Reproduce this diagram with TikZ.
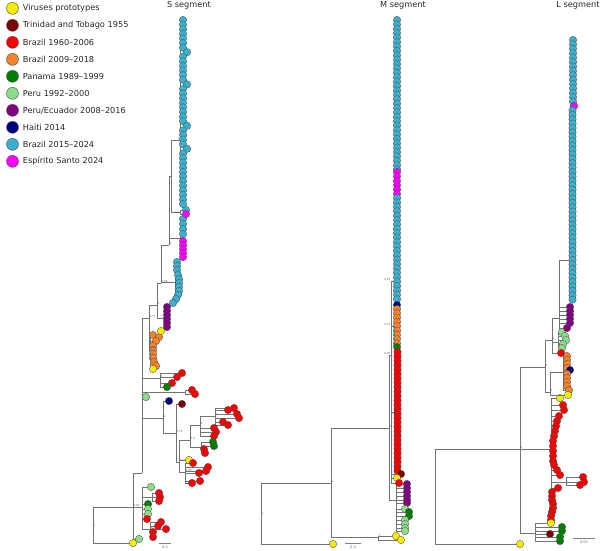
\documentclass[tikz,border=0pt]{standalone}
\usepackage{fontspec}
\setmainfont{DejaVu Sans}
\usetikzlibrary{positioning}
\definecolor{protoY}{RGB}{246,236,0}
\definecolor{trinR}{RGB}{128,0,0}
\definecolor{braR}{RGB}{250,0,0}
\definecolor{braO}{RGB}{245,130,45}
\definecolor{panG}{RGB}{0,128,0}
\definecolor{peruG}{RGB}{140,220,140}
\definecolor{ecuP}{RGB}{128,0,128}
\definecolor{haiB}{RGB}{0,0,128}
\definecolor{braC}{RGB}{60,175,205}
\definecolor{espM}{RGB}{255,0,255}
% a group of tips: parent, colour, x/y list (branches first, circles on top)
\newcommand{\leaves}[3]{%
  \foreach \lfx/\lfy in {#3} {\draw[branch] (#1) |- (\lfx,\lfy);}
  \foreach \lfx/\lfy in {#3} {\node[tip,fill=#2] (leaf) at (\lfx,\lfy) {};}}
% a column of tips: parent, colour, x, first y, step, count-1
\newcommand{\tipstack}[6]{%
  \foreach \lfi in {0,...,#6} {\draw[branch] (#1) |- (#3,{#4+#5*\lfi});}
  \foreach \lfi in {0,...,#6} {\node[tip,fill=#2] (leaf) at (#3,{#4+#5*\lfi}) {};}}
\begin{document}
\begin{tikzpicture}[x=1pt,y=-1pt]
\tikzstyle{tip} = [draw=black!70,circle,line width=0.3pt,inner sep=0pt,minimum size=7.5pt]
\tikzstyle{key} = [draw=black!70,circle,line width=0.4pt,inner sep=0pt,minimum size=12pt]
\tikzstyle{keytext} = [inner sep=0pt,font=\fontsize{8.2}{9}\selectfont,text=black!85]
\tikzstyle{title} = [inner sep=0pt,font=\fontsize{8.2}{9}\selectfont,text=black!85]
\tikzstyle{branch} = [draw=black!55,line width=0.5pt]
\tikzstyle{support} = [inner sep=0.3pt,font=\fontsize{2.8}{3}\selectfont,text=black!60]
\tikzstyle{scalebar} = [draw=black!50,line width=0.4pt]
\tikzstyle{scaletext} = [inner sep=0pt,font=\fontsize{3.5}{4}\selectfont,text=black!60]
\useasboundingbox (0,0) rectangle (600,550);

% legend
\node[key,fill=protoY] (k1) at (12.5,8.3) {};
\node[key,fill=trinR,below=4.6pt of k1] (k2) {};
\node[key,fill=braR,below=4.6pt of k2] (k3) {};
\node[key,fill=braO,below=4.6pt of k3] (k4) {};
\node[key,fill=panG,below=4.6pt of k4] (k5) {};
\node[key,fill=peruG,below=4.6pt of k5] (k6) {};
\node[key,fill=ecuP,below=4.6pt of k6] (k7) {};
\node[key,fill=haiB,below=4.6pt of k7] (k8) {};
\node[key,fill=braC,below=4.6pt of k8] (k9) {};
\node[key,fill=espM,below=4.6pt of k9] (k10) {};
\node[keytext,right=4pt of k1] (t1) {Viruses prototypes};
\node[keytext,right=4pt of k2] (t2) {Trinidad and Tobago 1955};
\node[keytext,right=4pt of k3] (t3) {Brazil 1960–2006};
\node[keytext,right=4pt of k4] (t4) {Brazil 2009–2018};
\node[keytext,right=4pt of k5] (t5) {Panama 1989–1999};
\node[keytext,right=4pt of k6] (t6) {Peru 1992–2000};
\node[keytext,right=4pt of k7] (t7) {Peru/Ecuador 2008–2016};
\node[keytext,right=4pt of k8] (t8) {Haiti 2014};
\node[keytext,right=4pt of k9] (t9) {Brazil 2015–2024};
\node[keytext,right=4pt of k10] (t10) {Espírito Santo 2024};

% titles
\node[title] (sTitle) at (189,5.5) {S segment};
\node[title] (mTitle) at (403,5.5) {M segment};
\node[title] (lTitle) at (578,5.5) {L segment};

% S segment
\coordinate (sRoot) at (93,525);
\coordinate (sA) at (133,507);
\coordinate (sB) at (142,473);
\coordinate (sC) at (142,507);
\coordinate (sC1) at (152,497);
\coordinate (sC2) at (150,529);
\coordinate (sD) at (149,318);
\coordinate (sD1) at (157,305);
\coordinate (sD2) at (150,350);
\coordinate (sD3) at (161,283);
\coordinate (sD3c) at (175.5,282);
\coordinate (sD4) at (163,318);
\coordinate (sD4c) at (164.5,317);
\coordinate (sU1) at (169,245);
\coordinate (sU1c) at (180.5,238);
\coordinate (sU0) at (171,176);
\coordinate (sU2) at (180,212);
\coordinate (sComb) at (180.5,140);
\coordinate (sE1) at (160,378);
\coordinate (sE2) at (185,392);
\coordinate (sF) at (163,418);
\coordinate (sG) at (176,433);
\coordinate (sH) at (179,462);
\coordinate (sI) at (190,440);
\coordinate (sI2) at (201,447);
\coordinate (sK) at (200,425);
\coordinate (sL) at (215,416);
\coordinate (sJ) at (185,472);
\foreach \p/\c in {sRoot/sA,sA/sB,sA/sC,sC/sC1,sC/sC2,sB/sD,sB/sE1,sB/sE2,sB/sF,sD/sD1,sD/sD2,sD1/sD3,sD1/sD4,sD3/sU1,sD3/sD3c,sD4/sD4c,sU1/sU0,sU1/sU1c,sU0/sComb,sU0/sU2,sF/sG,sG/sH,sH/sI,sH/sJ,sI/sK,sI/sI2,sK/sL}
  \draw[branch] (\p) |- (\c);
\leaves{sA}{peruG}{139/539}
\leaves{sRoot}{protoY}{133/543}
\leaves{sC}{peruG}{151/487}
\leaves{sC1}{braR}{159/493,160/497,159/501}
\leaves{sC}{panG}{148/504}
\leaves{sC}{peruG}{148/509,148/514}
\leaves{sC}{braR}{147/519}
\leaves{sC2}{braR}{161/522,158/526,166/529,153/532,153/537}
\leaves{sE1}{braR}{182/373,177/377,172/383}
\leaves{sE1}{panG}{167/387}
\leaves{sE2}{braR}{192/390,195/394}
\leaves{sB}{peruG}{146/397}
\leaves{sF}{haiB}{169/401}
\leaves{sG}{trinR}{182/404}
\leaves{sL}{braR}{234/408,228/410,237/414,239/418,223/422,228/425}
\leaves{sK}{braR}{214/428,216/432,214/436}
\leaves{sI2}{panG}{213/442,214/446}
\leaves{sI2}{braR}{204/449,205/453}
\leaves{sH}{protoY}{189/460}
\leaves{sJ}{braR}{193/463,208/467,206/471,199/473,200/481,192/483}
\leaves{sD2}{braO}{153/335,159/337,156/341,153/346,153/350,153/354,153/358,154/362,156/366}
\leaves{sD2}{protoY}{153/369}
\leaves{sD4c}{ecuP}{167/307,167/311,167/315,167/319,167/323,167/327}
\leaves{sD4}{protoY}{161/331}
\leaves{sD3c}{braC}{177/262,177/266,177/270,178/275,179/279,179/283,179/287,179/291,178/295,176/299,173/303}
\leaves{sU1c}{braC}{183/219,183/224,183/229,183/234}
\leaves{sU1c}{espM}{183/241,183/245,183/249,183/253,183/257}
\leaves{sU2}{braC}{186/210}
\leaves{sU2}{espM}{186/214}
\draw[branch] (sComb) |- (183,20);
\draw[branch] (sComb) |- (183,204);
\foreach \lfi in {0,...,40} {\pgfmathsetmacro\lfx{183+4*((\lfi==7)+(\lfi==14)+(\lfi==23)+(\lfi==28))}\node[tip,fill=braC] (leaf) at (\lfx,{20+4.6*\lfi}) {};}
\node[support,anchor=west] (sRootLab) at (sRoot) {1};
\node[support,anchor=south west] (sALab) at (sA) {0.84};
\node[support,anchor=south west] (sC2Lab) at (sC2) {0.79};
\node[support,anchor=south west] (sDLab) at (sD) {0.77};
\node[support,anchor=south west] (sD2Lab) at (sD2) {0.83};
\node[support,anchor=south west] (sD1Lab) at (sD1) {1};
\node[support,anchor=south west] (sD3Lab) at (sD3) {0.96};
\node[support,anchor=south west] (sU1Lab) at (sU1) {1};
\node[support,anchor=east] (sU2Lab) at (sU2) {0.7};
\node[support,anchor=south east] (sCombLab) at (sComb) {1};
\node[support,anchor=south west] (sE1Lab) at (sE1) {1};
\node[support,anchor=south west] (sFLab) at (sF) {1};
\node[support,anchor=south west] (sGLab) at (sG) {0.75};
\node[support,anchor=south west] (sHLab) at (sH) {0.72};
\node[support,anchor=south west] (sILab) at (sI) {0.9};
\node[support,anchor=south west] (sJLab) at (sJ) {0.85};
\node[support,anchor=south west] (sKLab) at (sK) {1};
\node[support,anchor=south west] (sLLab) at (sL) {1};
\coordinate (sBarL) at (159,543);
\coordinate (sBarR) at (171,543);
\draw[scalebar] (sBarL) -- (sBarR);
\node[scaletext] (sBarT) at (165,547) {0.4};

% M segment
\coordinate (mRoot) at (261,513);
\coordinate (mA) at (331,483);
\coordinate (mA2) at (378,537);
\coordinate (mB) at (389,428);
\coordinate (mC) at (391,355);
\coordinate (mC1) at (394.5,281);
\coordinate (mC2) at (394.5,326);
\coordinate (mC3) at (394.5,412);
\coordinate (mD) at (396,500);
\foreach \p/\c in {mRoot/mA,mA/mB,mA/mA2,mB/mC,mB/mD,mC/mC1,mC/mC2,mC/mC3}
  \draw[branch] (\p) |- (\c);
\leaves{mRoot}{protoY}{333/544}
\leaves{mA2}{protoY}{396/536,401/540}
\leaves{mD}{ecuP}{407/484,407/488,407/492,407/496,407/500,407/503}
\leaves{mD}{peruG}{405/509}
\leaves{mD}{panG}{409/512,409/516}
\leaves{mD}{peruG}{405/520,405/524,405/528,405/531}
\tipstack{mC1}{braC}{397}{20}{4.4}{34}
\tipstack{mC1}{espM}{397}{172}{4.4}{5}
\tipstack{mC1}{braC}{397}{198}{4.4}{23}
\leaves{mC2}{haiB}{397/305}
\tipstack{mC2}{braO}{397}{309}{4.3}{8}
\leaves{mC2}{panG}{397/347}
\tipstack{mC3}{braR}{397.5}{352}{4.4}{27}
\leaves{mC}{trinR}{401/474}
\leaves{mC}{protoY}{397/478}
\leaves{mC}{braR}{399/483}
\node[support,anchor=west] (mRootLab) at (mRoot) {1};
\node[support,anchor=south west] (mALab) at (mA) {1};
\node[support,anchor=south west] (mBLab) at (mB) {1};
\node[support,anchor=south west] (mA2Lab) at (mA2) {1};
\node[support,anchor=south west] (mDLab) at (mD) {1};
\node[support,anchor=south east] (mCLab) at (mC) {0.58};
\node[support,anchor=south east] (mC1Lab) at ([xshift=-3.5pt]mC1) {0.83};
\node[support,anchor=south east] (mC2Lab) at ([xshift=-3.5pt]mC2) {0.53};
\coordinate (mBarL) at (345,543);
\coordinate (mBarR) at (361,543);
\draw[scalebar] (mBarL) -- (mBarR);
\node[scaletext] (mBarT) at (353,547) {0.3};

% L segment
\coordinate (lRoot) at (435,497);
\coordinate (lA) at (520,449);
\coordinate (lA2) at (535,533);
\coordinate (lB) at (545,367);
\coordinate (lC) at (552,340);
\coordinate (lC1) at (559,318);
\coordinate (lC3) at (558,342);
\coordinate (lComb) at (570.5,260);
\coordinate (lD) at (550,392);
\coordinate (lD1) at (563,372);
\coordinate (lR) at (551,449);
\coordinate (lR2) at (566,482);
\foreach \p/\c in {lRoot/lA,lA/lB,lA/lR,lA/lA2,lB/lC,lB/lD,lC/lC1,lC/lC3,lC1/lComb,lD/lD1,lR/lR2}
  \draw[branch] (\p) |- (\c);
\leaves{lRoot}{protoY}{520/544}
\leaves{lR}{protoY}{560/398}
\leaves{lR}{braR}{563/405,564/410,559/416,557/421,556/426,555/431,554/436,553/441,553/446,553/451,553/456,553/461,554/465,557/470,560/475,558/488,552/492,552/496,552/500,553/504,553/508,552/512,551/516,551/520}
\leaves{lR2}{braR}{583/477,584/482,580/485}
\leaves{lA2}{protoY}{551/523}
\leaves{lA2}{panG}{562/527,562/531}
\leaves{lA2}{trinR}{550/534}
\leaves{lA2}{panG}{560/537,560/541}
\leaves{lD1}{braO}{567/356,567/360,567/364,567/368}
\leaves{lD1}{haiB}{570/370}
\leaves{lD1}{braO}{567/374,567/378,567/382,567/386,569/390}
\leaves{lD}{protoY}{568/395}
\leaves{lC3}{peruG}{562/332,565/336,566/340,563/344,562/348}
\leaves{lC}{braR}{561/353}
\leaves{lC1}{ecuP}{570/307,570/311,570/315,570/319,570/323,567/328}
\tipstack{lComb}{braC}{573}{40}{4.4}{14}
\leaves{lComb}{espM}{574/106}
\tipstack{lComb}{braC}{572.5}{110.4}{4.4}{43}
\node[support,anchor=south west] (lALab) at (lA) {1};
\node[support,anchor=south west] (lBLab) at (lB) {1};
\node[support,anchor=south west] (lCLab) at (lC) {1};
\node[support,anchor=south west] (lDLab) at (lD) {1};
\node[support,anchor=south west] (lA2Lab) at (lA2) {1};
\coordinate (lBarL) at (573,538);
\coordinate (lBarR) at (595,538);
\draw[scalebar] (lBarL) -- (lBarR);
\node[scaletext] (lBarT) at (584,542) {0.05};
\end{tikzpicture}
\end{document}
